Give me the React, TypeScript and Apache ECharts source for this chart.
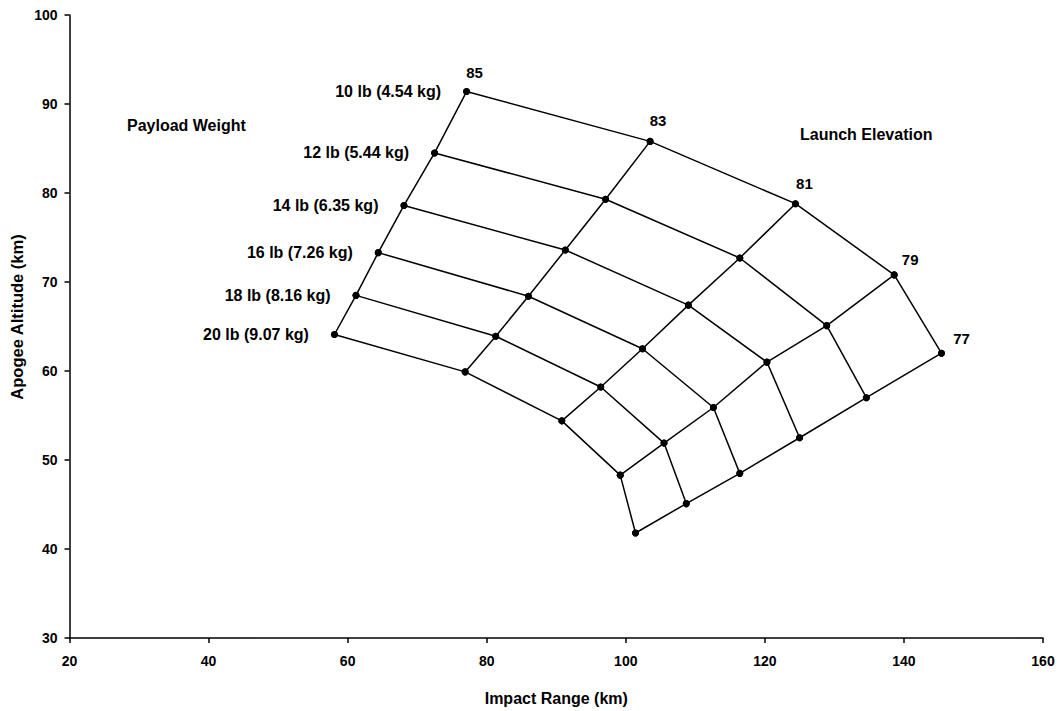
import React, { useEffect, useRef } from "react";
import * as echarts from "echarts";

// Launch elevation (deg) and payload weight categories
const elevations = ["85", "83", "81", "79", "77"];
const weightLabels = [
  "10 lb (4.54 kg)",
  "12 lb (5.44 kg)",
  "14 lb (6.35 kg)",
  "16 lb (7.26 kg)",
  "18 lb (8.16 kg)",
  "20 lb (9.07 kg)",
];

// Impact range (km): rows = weight (10..20 lb), columns = elevation (85..77)
const impactRange = [
  [77.1, 103.5, 124.4, 138.6, 145.4],
  [72.5, 97.1, 116.4, 128.9, 134.6],
  [68.1, 91.3, 109.0, 120.3, 125.0],
  [64.4, 86.0, 102.4, 112.6, 116.4],
  [61.2, 81.3, 96.4, 105.5, 108.7],
  [58.1, 76.9, 90.8, 99.2, 101.4],
];

// Apogee altitude (km): rows = weight, columns = elevation
const apogeeAltitude = [
  [91.4, 85.8, 78.8, 70.8, 62.0],
  [84.5, 79.3, 72.7, 65.1, 57.0],
  [78.6, 73.6, 67.4, 61.0, 52.5],
  [73.3, 68.4, 62.5, 55.9, 48.5],
  [68.5, 63.9, 58.2, 51.9, 45.1],
  [64.1, 59.9, 54.4, 48.3, 41.8],
];

const xTicks = [20, 40, 60, 80, 100, 120, 140, 160];
const yTicks = [30, 40, 50, 60, 70, 80, 90, 100];

const FONT = "'Liberation Sans', Arial, Helvetica, sans-serif";
const elevLabelOffsets = [
  [8, -3],
  [8, -4.5],
  [9, -4.5],
  [16, 0.5],
  [20, 1.5],
];

export default function App() {
  const ref = useRef<HTMLDivElement>(null);

  useEffect(() => {
    if (!ref.current) return;
    const chart = echarts.init(ref.current, undefined, { renderer: "svg" });

    const lineStyle = { color: "#000", width: 1.5 };
    const itemStyle = { color: "#000" };
    const series: any[] = [];

    // constant payload weight curves
    weightLabels.forEach((w, wi) => {
      series.push({
        type: "line",
        name: w,
        data: elevations.map((e, ei) => {
          const item: any = { value: [impactRange[wi][ei], apogeeAltitude[wi][ei]] };
          if (wi === 0) {
            item.label = {
              show: true,
              position: "top",
              distance: 5,
              offset: elevLabelOffsets[ei],
              formatter: e,
              color: "#000",
              fontSize: 15,
              fontWeight: "bold",
              fontFamily: FONT,
            };
          }
          return item;
        }),
        symbol: "circle",
        symbolSize: 7,
        lineStyle,
        itemStyle,
        z: 3,
      });
    });

    // constant launch elevation curves
    elevations.forEach((e, ei) => {
      series.push({
        type: "line",
        name: e,
        data: weightLabels.map((w, wi) => {
          const item: any = { value: [impactRange[wi][ei], apogeeAltitude[wi][ei]] };
          if (ei === 0) {
            item.label = {
              show: true,
              position: "left",
              distance: 22,
              formatter: w,
              color: "#000",
              fontSize: 16,
              fontWeight: "bold",
              fontFamily: FONT,
            };
          }
          return item;
        }),
        symbol: "circle",
        symbolSize: 7,
        lineStyle,
        itemStyle,
        z: 3,
      });
    });

    chart.setOption({
      animation: false,
      backgroundColor: "#fff",
      grid: { left: 69.5, right: 16, top: 15, bottom: 61.7, containLabel: false },
      xAxis: {
        type: "value",
        min: xTicks[0],
        max: xTicks[xTicks.length - 1],
        interval: 20,
        name: "Impact Range (km)",
        nameLocation: "middle",
        nameGap: 52,
        nameTextStyle: { color: "#000", fontSize: 16, fontWeight: "bold", fontFamily: FONT },
        axisLine: { lineStyle: { color: "#000", width: 1.5 } },
        axisTick: { show: true, inside: false, length: 5, lineStyle: { color: "#000", width: 1.5 } },
        axisLabel: { color: "#000", fontSize: 14, fontWeight: "bold", fontFamily: FONT, margin: 16 },
        splitLine: { show: false },
      },
      yAxis: {
        type: "value",
        min: yTicks[0],
        max: yTicks[yTicks.length - 1],
        interval: 10,
        axisLine: { show: true, lineStyle: { color: "#000", width: 1.5 } },
        axisTick: { show: true, inside: false, length: 5, lineStyle: { color: "#000", width: 1.5 } },
        axisLabel: { color: "#000", fontSize: 14, fontWeight: "bold", fontFamily: FONT, margin: 12 },
        splitLine: { show: false },
      },
      graphic: [
        {
          type: "text",
          x: 17,
          y: 317,
          rotation: Math.PI / 2,
          style: {
            text: "Apogee Altitude (km)",
            fill: "#000",
            font: `bold 16.5px ${FONT}`,
            textAlign: "center",
            textVerticalAlign: "middle",
          },
        },
        {
          type: "text",
          x: 127,
          y: 125,
          style: {
            text: "Payload Weight",
            fill: "#000",
            font: `bold 16px ${FONT}`,
            textAlign: "left",
            textVerticalAlign: "middle",
          },
        },
        {
          type: "text",
          x: 800,
          y: 134,
          style: {
            text: "Launch Elevation",
            fill: "#000",
            font: `bold 16px ${FONT}`,
            textAlign: "left",
            textVerticalAlign: "middle",
          },
        },
      ],
      series,
    });

    return () => chart.dispose();
  }, []);

  return (
    <div
      ref={ref}
      style={{ position: "fixed", left: 0, top: 0, width: 1059, height: 711, background: "#fff" }}
    />
  );
}
